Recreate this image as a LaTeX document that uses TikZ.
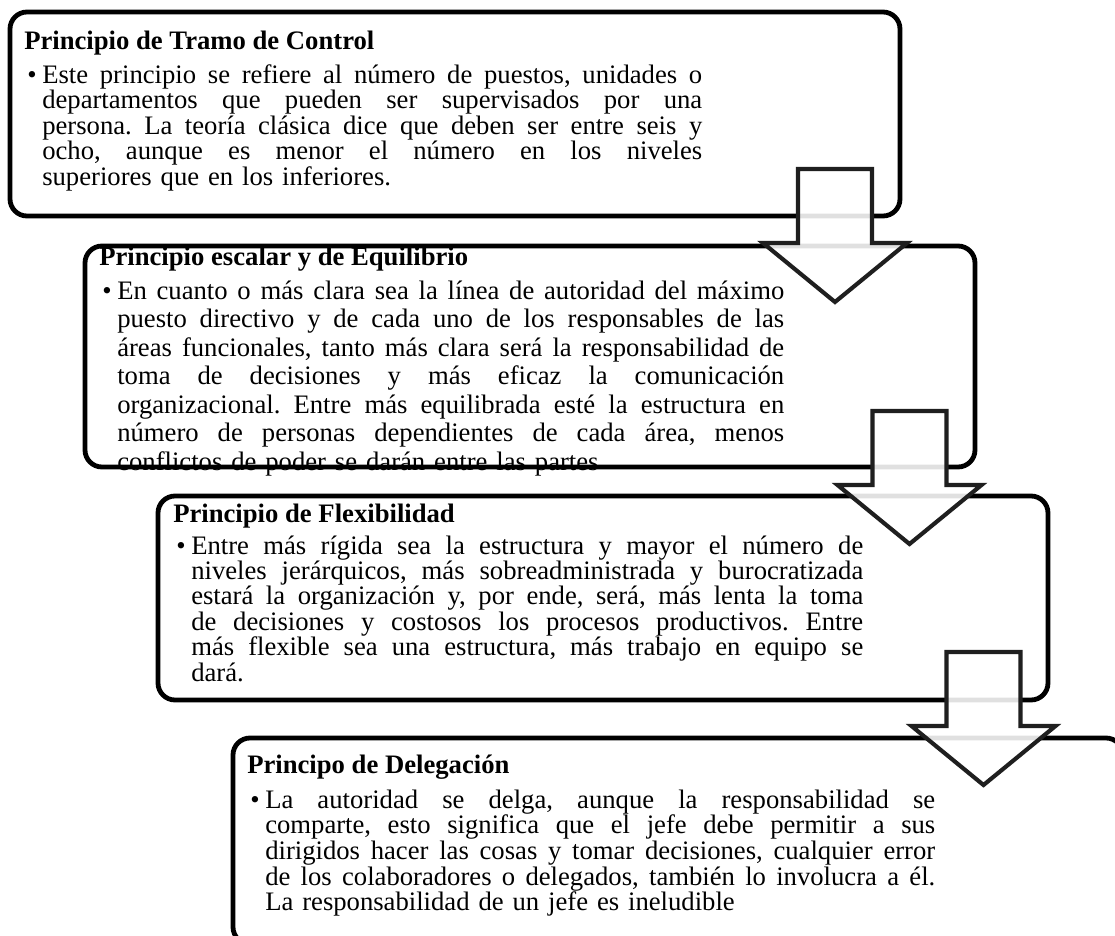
\documentclass[tikz,border=0pt]{standalone}
\usepackage{fontspec}
\setmainfont{Liberation Serif}
\frenchspacing

% one justified line (spaces stretched evenly), and the closing ragged line
\newcommand{\jline}[1]{\noindent\hbox to\hsize{\spaceskip=0.25em plus 1fil\relax #1}\par}
\newcommand{\lastline}[1]{\noindent #1\par}

\tikzset{
  panel/.style={draw=black, line width=3.6pt, rounded corners=12.75pt,
    rectangle, inner sep=0pt, minimum width=667.5pt},
  heading/.style={anchor=base west, inner sep=0pt,
    font=\fontsize{20pt}{19.5pt}\selectfont\bfseries},
  dot/.style={anchor=base west, inner sep=0pt,
    font=\fontsize{20pt}{19.5pt}\selectfont},
  body/.style={anchor=base west, inner sep=0pt,
    font=\fontsize{20pt}{#1}\selectfont},
  arrowshape/.style={draw=black!88, line width=3.1pt, fill=white,
    fill opacity=0.88, line join=miter},
  downarrow/.pic={
    \draw[arrowshape] (-37,0) -- (37,0) -- (37,74) -- (72,74) -- (0,133)
      -- (-72,74) -- (-37,74) -- cycle;
  }
}

\begin{document}
\begin{tikzpicture}[x=0.75pt,y=-0.75pt]
\useasboundingbox (0,0) rectangle (1115,936);

% the four panels
\node[panel, minimum height=153pt]    (p1) at (455,114)   {};
\node[panel, minimum height=165.75pt] (p2) at (530,356.5) {};
\node[panel, minimum height=153pt]    (p3) at (603,598)   {};
\node[panel, minimum height=154.5pt]  (p4) at (678,841)   {};

% panel 1
\node[heading] (h1) at (24,49) {Principio de Tramo de Control};
\node[dot] (d1) at (27,83) {•};
\node[body=18pt, text width=495pt] (b1) at (42,83) {%
\jline{Este principio se refiere al número de puestos, unidades o}
\jline{departamentos que pueden ser supervisados por una}
\jline{persona. La teoría clásica dice que deben ser entre seis y}
\jline{ocho, aunque es menor el número en los niveles}
\lastline{superiores que en los inferiores.}};

% panel 2
\node[heading] (h2) at (99,265) {Principio escalar y de Equilibrio};
\node[dot] (d2) at (102,299) {•};
\node[body=21.4pt, text width=500.25pt] (b2) at (117,299) {%
\jline{En cuanto o más clara sea la línea de autoridad del máximo}
\jline{puesto directivo y de cada uno de los responsables de las}
\jline{áreas funcionales, tanto más clara será la responsabilidad de}
\jline{toma de decisiones y más eficaz la comunicación}
\jline{organizacional. Entre más equilibrada esté la estructura en}
\jline{número de personas dependientes de cada área, menos}
\lastline{conflictos de poder se darán entre las partes}};

% panel 3
\node[heading] (h3) at (173,522) {Principio de Flexibilidad};
\node[dot] (d3) at (176,554) {•};
\node[body=19.1pt, text width=504pt] (b3) at (191,554) {%
\jline{Entre más rígida sea la estructura y mayor el número de}
\jline{niveles jerárquicos, más sobreadministrada y burocratizada}
\jline{estará la organización y, por ende, será, más lenta la toma}
\jline{de decisiones y costosos los procesos productivos. Entre}
\jline{más flexible sea una estructura, más trabajo en equipo se}
\lastline{dará.}};

% panel 4
\node[heading] (h4) at (247,773) {Principo de Delegación};
\node[dot] (d4) at (250,808) {•};
\node[body=18pt, text width=502.5pt] (b4) at (265,808) {%
\jline{La autoridad se delga, aunque la responsabilidad se}
\jline{comparte, esto significa que el jefe debe permitir a sus}
\jline{dirigidos hacer las cosas y tomar decisiones, cualquier error}
\jline{de los colaboradores o delegados, también lo involucra a él.}
\lastline{La responsabilidad de un jefe es ineludible}};

% block arrows leading from each panel to the next
\pic at (835,169)   {downarrow};
\pic at (909.5,411) {downarrow};
\pic at (983.5,652) {downarrow};
\end{tikzpicture}
\end{document}
